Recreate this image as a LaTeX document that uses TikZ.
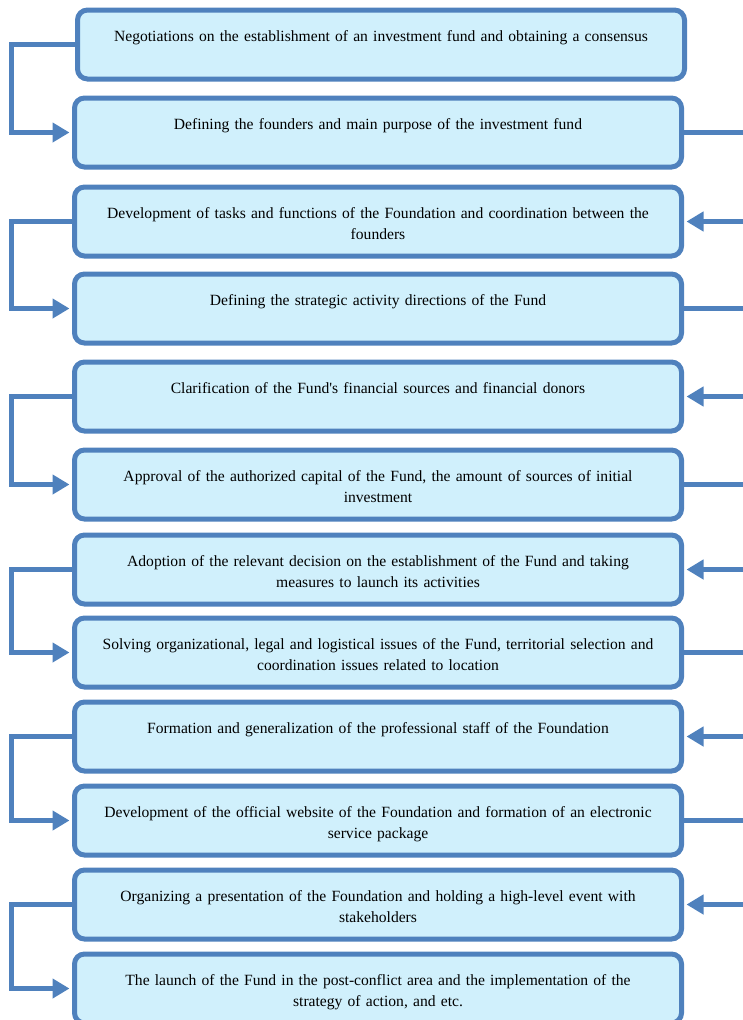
\documentclass[tikz,border=0pt]{standalone}
\usepackage{fontspec}
\setmainfont{Liberation Serif}
\newfontfamily\stagefont{Liberation Serif}
\usetikzlibrary{arrows.meta}

\definecolor{stageblue}{RGB}{79,129,189}
\definecolor{stagefill}{RGB}{208,240,252}

\tikzset{
    stage/.style={draw=stageblue, line width=5pt, fill=stagefill, rounded corners=10pt,
        anchor=north, text width=580pt, align=center, inner xsep=13.5pt, inner ysep=0pt,
        text height=31.5pt, text depth=37.5pt, font=\stagefont\fontsize{15.6}{21}\selectfont},
    link/.style={draw=stageblue, line width=5pt, shorten >=2.5pt,
        -{Triangle[length=17pt,width=19pt]}}
}

\begin{document}
\begin{tikzpicture}[x=1pt, y=-1pt]
    \useasboundingbox (0,0) rectangle (743,1020);

    % stages
    \node[stage] (s1) at (381,7.5) {Negotiations on the establishment of an investment fund and obtaining a consensus};
    \node[stage] (s2) at (378,95.5) {Defining the founders and main purpose of the investment fund};
    \node[stage] (s3) at (378,184.5) {Development of tasks and functions of the Foundation and coordination between the\\founders};
    \node[stage] (s4) at (378,271.5) {Defining the strategic activity directions of the Fund};
    \node[stage] (s5) at (378,359.5) {Clarification of the Fund's financial sources and financial donors};
    \node[stage] (s6) at (378,447.5) {Approval of the authorized capital of the Fund, the amount of sources of initial\\investment};
    \node[stage] (s7) at (378,532.5) {Adoption of the relevant decision on the establishment of the Fund and taking\\measures to launch its activities};
    \node[stage] (s8) at (378,615.5) {Solving organizational, legal and logistical issues of the Fund, territorial selection and\\coordination issues related to location};
    \node[stage] (s9) at (378,699.5) {Formation and generalization of the professional staff of the Foundation};
    \node[stage] (s10) at (378,783.5) {Development of the official website of the Foundation and formation of an electronic\\service package};
    \node[stage] (s11) at (378,867.5) {Organizing a presentation of the Foundation and holding a high-level event with\\stakeholders};
    \node[stage] (s12) at (378,951.5) {The launch of the Fund in the post-conflict area and the implementation of the\\strategy of action, and etc.};

    % side rails
    \coordinate (lrail) at (11,0);
    \coordinate (rrail) at (745,0);

    % left connectors
    \draw[link] (s1.west) -- (s1.west -| lrail) |- (s2.west);
    \draw[link] (s3.west) -- (s3.west -| lrail) |- (s4.west);
    \draw[link] (s5.west) -- (s5.west -| lrail) |- (s6.west);
    \draw[link] (s7.west) -- (s7.west -| lrail) |- (s8.west);
    \draw[link] (s9.west) -- (s9.west -| lrail) |- (s10.west);
    \draw[link] (s11.west) -- (s11.west -| lrail) |- (s12.west);

    % right connectors
    \draw[link] (s2.east) -- (s2.east -| rrail) |- (s3.east);
    \draw[link] (s4.east) -- (s4.east -| rrail) |- (s5.east);
    \draw[link] (s6.east) -- (s6.east -| rrail) |- (s7.east);
    \draw[link] (s8.east) -- (s8.east -| rrail) |- (s9.east);
    \draw[link] (s10.east) -- (s10.east -| rrail) |- (s11.east);
\end{tikzpicture}
\end{document}
